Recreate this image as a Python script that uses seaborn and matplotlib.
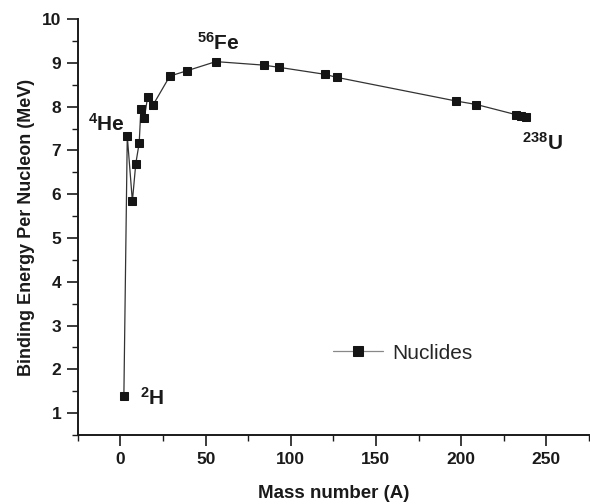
import matplotlib
matplotlib.use("Agg")
import matplotlib.pyplot as plt
import seaborn as sns
import pandas as pd
from matplotlib.ticker import MultipleLocator

# mass number and binding energy per nucleon (MeV)
mass_number = [2, 4, 7, 9, 11, 12, 14, 16, 19, 29, 39, 56,
               84, 93, 120, 127, 197, 209, 232, 235, 238]
binding_energy = [1.38, 7.33, 5.84, 6.70, 7.17, 7.95, 7.74, 8.23, 8.03, 8.70, 8.82, 9.03,
                  8.95, 8.90, 8.74, 8.67, 8.13, 8.05, 7.82, 7.79, 7.77]

# labelled nuclides: (text, x, baseline y) in data units
labels = [
    (r"$\mathbf{^{4}He}$", -19, 7.46),
    (r"$\mathbf{^{56}Fe}$", 45, 9.31),
    (r"$\mathbf{^{238}U}$", 235.5, 7.01),
    (r"$\mathbf{^{2}H}$", 11.5, 1.18),
]

df = pd.DataFrame({"A": mass_number, "BE": binding_energy})

sns.set_style("ticks")
plt.rcParams["font.family"] = ["Liberation Sans", "DejaVu Sans"]
plt.rcParams["mathtext.fontset"] = "custom"
plt.rcParams["mathtext.bf"] = "Liberation Sans:bold"
plt.rcParams["mathtext.rm"] = "Liberation Sans"

fig = plt.figure(figsize=(5.9, 5.04), dpi=100)
ax = fig.add_axes([0.132, 0.137, 0.866, 0.825])

sns.lineplot(data=df, x="A", y="BE", sort=False, estimator=None,
             color="#333333", linewidth=0.9, marker="s", markersize=5.5,
             markerfacecolor="#151515", markeredgecolor="#151515",
             label="Nuclides", ax=ax)

for txt, x, y in labels:
    ax.text(x, y, txt, fontsize=15, color="#1a1a1a", va="baseline", ha="left")

ax.set_xlim(-25, 275)
ax.set_ylim(0.5, 10)
ax.xaxis.set_major_locator(MultipleLocator(50))
ax.xaxis.set_minor_locator(MultipleLocator(25))
ax.yaxis.set_major_locator(MultipleLocator(1))
ax.yaxis.set_minor_locator(MultipleLocator(0.5))
ax.set_xticks([0, 50, 100, 150, 200, 250])
ax.set_yticks(range(1, 11))

ax.tick_params(which="major", length=8, width=1.2, direction="out",
               labelsize=12.5, colors="#1a1a1a", pad=4)
ax.tick_params(which="minor", length=4, width=1.0, direction="out", colors="#1a1a1a")
for lab in ax.get_xticklabels() + ax.get_yticklabels():
    lab.set_fontweight("bold")

for s in ["top", "right"]:
    ax.spines[s].set_visible(False)
for s in ["left", "bottom"]:
    ax.spines[s].set_linewidth(1.4)
    ax.spines[s].set_color("#1a1a1a")

ax.set_xlabel("Mass number (A)", fontsize=13.5, fontweight="bold", color="#1a1a1a", labelpad=13)
ax.set_ylabel("Binding Energy Per Nucleon (MeV)", fontsize=13, fontweight="bold",
              color="#1a1a1a", labelpad=5)

leg = ax.legend(loc="center left", bbox_to_anchor=(0.462, 0.197), frameon=False,
                fontsize=15, handlelength=2.4, handletextpad=0.45, markerscale=1.3)
for h in leg.legend_handles:
    h.set_color("#888888")
    h.set_markerfacecolor("#151515")
    h.set_markeredgecolor("#151515")

fig.savefig("out.png", dpi=100)
